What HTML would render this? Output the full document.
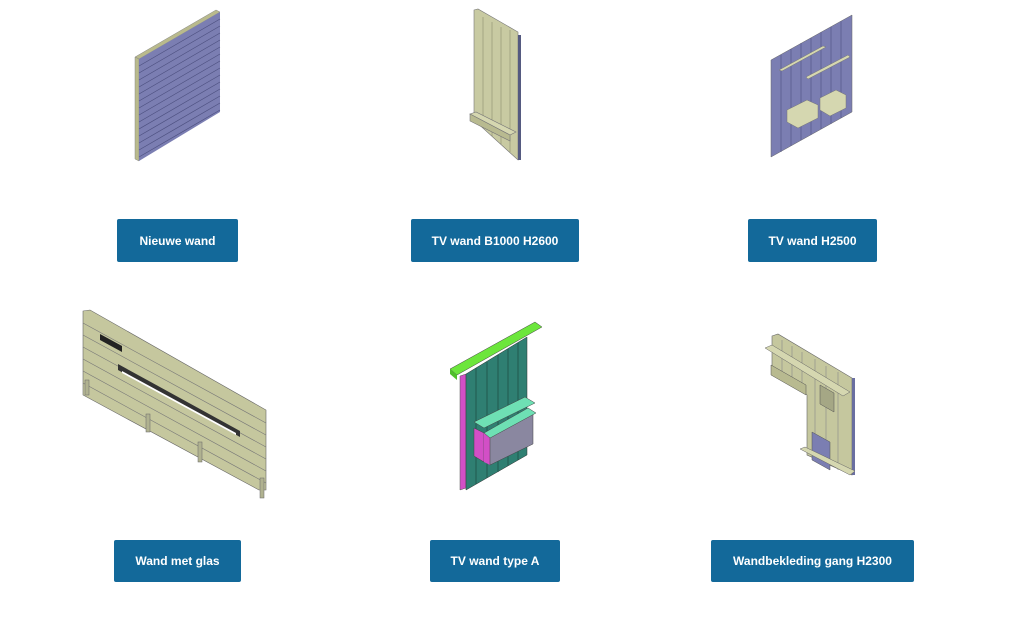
<!DOCTYPE html>
<html><head><meta charset="utf-8"><style>
html,body{margin:0;padding:0;background:#fff;width:1024px;height:619px;overflow:hidden;position:relative;font-family:"Liberation Sans",sans-serif}
.b{position:absolute;background:#13699a;color:#fff;font-weight:bold;font-size:12px;display:flex;align-items:center;justify-content:center;border-radius:2px}
svg{position:absolute;left:0;top:0}
</style></head><body>
<svg width="1024" height="619" viewBox="0 0 1024 619">
<!-- 1 -->
<polygon points="135,57 216,10 220,12 139,59" fill="#b9ba8c" stroke="#888" stroke-width="0.5"/>
<polygon points="135,57 139,59 139,161 135,159" fill="#b9ba8c" stroke="#888" stroke-width="0.5"/>
<polygon points="139,59 220,12 220,112 139,161" fill="#7b7eb2"/>
<g stroke="#4d5080" stroke-width="0.7">
<line x1="139" y1="66" x2="220" y2="19"/><line x1="139" y1="73" x2="220" y2="26"/><line x1="139" y1="80" x2="220" y2="33"/><line x1="139" y1="87" x2="220" y2="40"/><line x1="139" y1="94" x2="220" y2="47"/><line x1="139" y1="101" x2="220" y2="54"/><line x1="139" y1="108" x2="220" y2="61"/><line x1="139" y1="115" x2="220" y2="68"/><line x1="139" y1="122" x2="220" y2="75"/><line x1="139" y1="129" x2="220" y2="82"/><line x1="139" y1="136" x2="220" y2="89"/><line x1="139" y1="143" x2="220" y2="96"/><line x1="139" y1="150" x2="220" y2="103"/><line x1="139" y1="157" x2="220" y2="110"/>
</g>
<!-- 2 -->
<polygon points="474,10 478,9 518,32 518,160 474,120" fill="#c8caa2" stroke="#777" stroke-width="0.6"/>
<g stroke="#8a8c70" stroke-width="0.6"><line x1="483" y1="17" x2="483" y2="128"/><line x1="492" y1="22" x2="492" y2="136"/><line x1="501" y1="27" x2="501" y2="144"/><line x1="510" y1="30" x2="510" y2="152"/></g>
<polygon points="470,114 476,112 516,132 510,135" fill="#d5d7b0" stroke="#777" stroke-width="0.6"/>
<polygon points="470,114 510,135 510,141 470,121" fill="#b8ba90" stroke="#777" stroke-width="0.6"/>
<rect x="518" y="35" width="3" height="125" fill="#555a80"/>
<!-- 3 -->
<polygon points="771,60 852,15 852,112 771,157" fill="#7b7eb2" stroke="#666" stroke-width="0.5"/>
<g stroke="#4d5080" stroke-width="0.6"><line x1="781" y1="55" x2="781" y2="152"/><line x1="791" y1="49" x2="791" y2="146"/><line x1="801" y1="43" x2="801" y2="140"/><line x1="811" y1="38" x2="811" y2="135"/><line x1="821" y1="32" x2="821" y2="129"/><line x1="831" y1="27" x2="831" y2="124"/><line x1="841" y1="21" x2="841" y2="118"/></g>
<polygon points="779,70 823,46 826,47 782,71" fill="#d5d7b0" stroke="#777" stroke-width="0.5"/>
<polygon points="806,77 848,55 850,57 808,79" fill="#d5d7b0" stroke="#777" stroke-width="0.5"/>
<polygon points="787,110 807,100 818,105 818,118 798,128 787,122" fill="#d5d7b0" stroke="#777" stroke-width="0.5"/>
<polygon points="820,98 836,90 846,95 846,108 830,116 820,110" fill="#d5d7b0" stroke="#777" stroke-width="0.5"/>
<!-- 4 -->
<polygon points="83,311 90,310 266,410 266,490 259,490 83,395" fill="#c5c79e" stroke="#666" stroke-width="0.6"/>
<g stroke="#777" stroke-width="0.6"><line x1="83" y1="323" x2="266" y2="423"/><line x1="83" y1="335" x2="266" y2="435"/><line x1="83" y1="347" x2="266" y2="447"/><line x1="83" y1="359" x2="266" y2="459"/><line x1="83" y1="371" x2="266" y2="471"/><line x1="83" y1="383" x2="266" y2="483"/></g>
<polygon points="100,334 122,346 122,352 100,340" fill="#222"/>
<polygon points="118,364 240,431 240,437 118,370" fill="#333"/>
<polygon points="122,371 236,433 236,435 122,373" fill="#fff"/>
<g fill="#b0b290" stroke="#666" stroke-width="0.5"><rect x="85" y="380" width="4" height="15"/><rect x="146" y="414" width="4" height="18"/><rect x="198" y="442" width="4" height="20"/><rect x="260" y="478" width="4" height="20"/></g>
<!-- 5 -->
<polygon points="460,376 466,374 466,488 460,490" fill="#d24fc6" stroke="#555" stroke-width="0.5"/>
<polygon points="466,374 527,337 527,455 466,490" fill="#2f7f72" stroke="#333" stroke-width="0.5"/>
<g stroke="#1d4f46" stroke-width="0.8"><line x1="476" y1="368" x2="476" y2="484"/><line x1="487" y1="362" x2="487" y2="478"/><line x1="498" y1="355" x2="498" y2="472"/><line x1="508" y1="349" x2="508" y2="466"/><line x1="518" y1="343" x2="518" y2="460"/></g>
<polygon points="450,369 535,322 542,327 457,375" fill="#6ce63c" stroke="#444" stroke-width="0.5"/>
<polygon points="450,369 457,375 457,380 450,374" fill="#4fc02a"/>
<polygon points="474,422 525,397 535,403 484,428" fill="#6ee0b4" stroke="#444" stroke-width="0.5"/>
<polygon points="474,428 484,433 484,462 474,456" fill="#d24fc6" stroke="#444" stroke-width="0.5"/>
<polygon points="484,433 490,436 490,465 484,462" fill="#d24fc6"/>
<polygon points="490,436 533,412 533,444 490,465" fill="#8a87a0" stroke="#444" stroke-width="0.5"/>
<polygon points="484,433 528,408 536,413 490,438" fill="#6ee0b4" stroke="#444" stroke-width="0.5"/>
<!-- 6 -->
<polygon points="772,336 778,334 852,378 852,475 807,455 807,395 772,375" fill="#c5c79e" stroke="#666" stroke-width="0.6"/>
<g stroke="#888" stroke-width="0.6"><line x1="782" y1="340" x2="782" y2="381"/><line x1="792" y1="346" x2="792" y2="386"/><line x1="802" y1="352" x2="802" y2="392"/><line x1="815" y1="359" x2="815" y2="460"/><line x1="826" y1="366" x2="826" y2="465"/><line x1="838" y1="372" x2="838" y2="470"/></g>
<rect x="852" y="378" width="3" height="97" fill="#6a6ea0"/>
<polygon points="765,348 772,345 850,392 843,396" fill="#d5d7b0" stroke="#666" stroke-width="0.5"/>
<polygon points="771,365 806,385 806,395 771,375" fill="#b8ba90" stroke="#555" stroke-width="0.5"/>
<polygon points="820,385 834,393 834,412 820,404" fill="#a5a785" stroke="#555" stroke-width="0.5"/>
<polygon points="812,432 830,442 830,470 812,460" fill="#7b7eb2" stroke="#555" stroke-width="0.5"/>
<polygon points="800,449 805,447 855,471 850,475" fill="#d5d7b0" stroke="#666" stroke-width="0.5"/>
</svg>
<div class="b" style="left:117px;top:219px;width:121px;height:43px">Nieuwe wand</div>
<div class="b" style="left:411px;top:219px;width:168px;height:43px">TV wand B1000 H2600</div>
<div class="b" style="left:748px;top:219px;width:129px;height:43px">TV wand H2500</div>
<div class="b" style="left:114px;top:540px;width:127px;height:42px">Wand met glas</div>
<div class="b" style="left:430px;top:540px;width:130px;height:42px">TV wand type A</div>
<div class="b" style="left:711px;top:540px;width:203px;height:42px">Wandbekleding gang H2300</div>
</body></html>
